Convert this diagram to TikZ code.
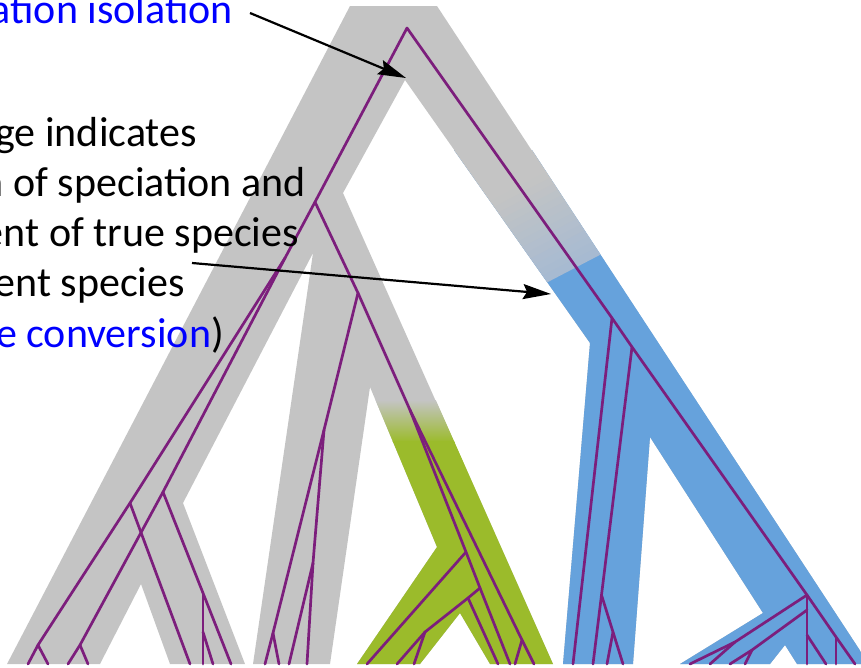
\documentclass[tikz,border=0pt]{standalone}
\usepackage{fontspec}
\setmainfont{Carlito}
\usetikzlibrary{arrows.meta}
\definecolor{branchgray}{RGB}{196,196,196}
\definecolor{cladegreen}{RGB}{155,187,43}
\definecolor{cladeblue}{RGB}{102,162,220}
\definecolor{fadeblue}{RGB}{166,186,210}
\definecolor{lineage}{RGB}{124,30,124}
\definecolor{linkblue}{RGB}{0,0,255}

\begin{document}
\begin{tikzpicture}[x=1pt,y=-1pt,
  gene/.style={draw=lineage, line width=2.7pt, line cap=round, line join=round},
  pointer/.style={draw=black, line width=2.2pt, -{Stealth[length=28pt,width=15pt,inset=4pt]}},
  slidetext/.style={anchor=base east, inner sep=0pt, font=\fontsize{42}{50}\selectfont}]
\useasboundingbox (0,0) rectangle (861,667);
\clip (0,0) rectangle (861,667);

% species tree: wide branches
\fill[branchgray] (7,664) -- (350,6) -- (437,6) -- (861,652) -- (861,664)
  -- (797,664) -- (785,645) -- (770,664) -- (680,664) -- (763,613) -- (650,437)
  -- (633,664) -- (563,664) -- (590,343) -- (405,80) -- (343,193) -- (553,664)
  -- (490,664) -- (460,613) -- (420,664) -- (357,664) -- (437,547) -- (370,387)
  -- (330,664) -- (253,664) -- (313,253) -- (183,503) -- (245,664) -- (170,664)
  -- (141,584) -- (100,664) -- cycle;

% green clade, fading in from grey
\begin{scope}
  \clip (370,387) -- (437,547) -- (357,664) -- (420,664) -- (460,613)
    -- (490,664) -- (553,664) -- (430,387) -- cycle;
  \shade[top color=branchgray, bottom color=cladegreen] (340,400) rectangle (560,442);
  \fill[cladegreen] (340,441) rectangle (560,670);
\end{scope}

% blue clade, fading in along the branch
\begin{scope}
  \clip (454,150) -- (532,150) -- (861,652) -- (861,664) -- (797,664) -- (785,645)
    -- (770,664) -- (680,664) -- (763,613) -- (650,437) -- (633,664) -- (563,664)
    -- (590,343) -- cycle;
  \fill[cladeblue] (440,140) rectangle (870,670);
  \fill[branchgray] ({505-100*0.568+133},{160-100*0.823-69.3})
    -- ({505+31*0.568+133},{160+31*0.823-69.3})
    -- ({505+31*0.568-133},{160+31*0.823+69.3})
    -- ({505-100*0.568-133},{160-100*0.823+69.3}) -- cycle;
  \foreach \i in {0,...,13} {
    \pgfmathsetmacro\sa{30+7*\i}
    \pgfmathsetmacro\sb{\sa+8}
    \pgfmathtruncatemacro\p{100*(\i+0.5)/14}
    \fill[fadeblue!\p!branchgray] ({505+\sa*0.568+133},{160+\sa*0.823-69.3})
      -- ({505+\sb*0.568+133},{160+\sb*0.823-69.3})
      -- ({505+\sb*0.568-133},{160+\sb*0.823+69.3})
      -- ({505+\sa*0.568-133},{160+\sa*0.823+69.3}) -- cycle;
  }
\end{scope}

% gene tree nodes
\coordinate (R) at (407,28);
\coordinate (L1) at (315,202);
\coordinate (La) at (285,258);
\coordinate (LA) at (130,503);
\coordinate (LA2) at (38,645);
\coordinate (LB) at (163,492);
\coordinate (LB2) at (80,645);
\coordinate (LB3) at (203,593);
\coordinate (LB4) at (203,632);
\coordinate (M0) at (358,293);
\coordinate (M1) at (324,430);
\coordinate (M2) at (273,633);
\coordinate (M3) at (313,563);
\coordinate (G0) at (410,410);
\coordinate (G1) at (522,640);
\coordinate (G2) at (466,552);
\coordinate (G3) at (480,588);
\coordinate (G4) at (425,632);
\coordinate (G5) at (468,598);
\coordinate (B1) at (612,318);
\coordinate (B2) at (632,347);
\coordinate (B3) at (807,595);
\coordinate (B4) at (836,637);
\coordinate (B5) at (601.5,595);
\coordinate (B6) at (613,632);
\coordinate (B7) at (735,642);
\coordinate (B8) at (807,610);
\coordinate (B9) at (752,650);
\coordinate (B10) at (807,635);

% gene tree tips
\foreach \n/\x in {a1/28,a2/48,b1/68,b2/88,a3/190,b3/203,b4/213,b5/231,
                   m1/265,m2/279,m3/289,m4/307,
                   g1/367,g2/397,g3/414,g4/498,g5/510,g6/515,g7/534,
                   c1/573,c2/593,c3/607,c4/623,
                   d1/690,d2/710,d3/730,d4/745,d5/807,d6/826,d7/836,d8/855}
  \coordinate (t\n) at (\x,664);

% gene tree lineages
\draw[gene] (ta1) -- (LA2) -- (LA) -- (La) -- (L1) -- (R) -- (B1) -- (B2) -- (B3) -- (B4) -- (td8);
\draw[gene] (LA2) -- (ta2);
\draw[gene] (LA) -- (ta3);
\draw[gene] (La) -- (LB) -- (LB2) -- (tb1);
\draw[gene] (LB2) -- (tb2);
\draw[gene] (LB) -- (LB3) -- (tb5);
\draw[gene] (LB3) -- (LB4) -- (tb3);
\draw[gene] (LB4) -- (tb4);
\draw[gene] (L1) -- (M0) -- (M1) -- (M2) -- (tm1);
\draw[gene] (M2) -- (tm2);
\draw[gene] (M1) -- (M3) -- (tm4);
\draw[gene] (M3) -- (tm3);
\draw[gene] (M0) -- (G0) -- (G1) -- (tg7);
\draw[gene] (G1) -- (tg6);
\draw[gene] (G0) -- (G2) -- (G3) -- (tg5);
\draw[gene] (G2) -- (tg1);
\draw[gene] (G3) -- (G5) -- (G4) -- (tg2);
\draw[gene] (G4) -- (tg3);
\draw[gene] (G5) -- (tg4);
\draw[gene] (B1) -- (tc1);
\draw[gene] (B2) -- (B5) -- (B6) -- (tc4);
\draw[gene] (B5) -- (tc2);
\draw[gene] (B6) -- (tc3);
\draw[gene] (B3) -- (B7) -- (td1);
\draw[gene] (B7) -- (td2);
\draw[gene] (B3) -- (B8) -- (B10) -- (td5);
\draw[gene] (B8) -- (B9) -- (td3);
\draw[gene] (B9) -- (td4);
\draw[gene] (B10) -- (td6);
\draw[gene] (B4) -- (td7);

% callout arrows
\coordinate (pA) at (250,13);
\coordinate (hA) at (406,78);
\coordinate (pB) at (192,263);
\coordinate (hB) at (551,294);
\draw[pointer] (pA) -- (hA);
\draw[pointer] (pB) -- (hB);

% slide text
\node[slidetext, text=linkblue] (s1) at (233,23) {ation isolation};
\node[slidetext] (s2) at (197,146.5) {ge indicates};
\node[slidetext] (s3) at (306,196) {n of speciation and};
\node[slidetext] (s4) at (299,246.5) {ent of true species};
\node[slidetext] (s5) at (185,296.5) {ent species};
\node[slidetext] (s6) at (224,347.5) {\textcolor{linkblue}{e conversion})};
\end{tikzpicture}
\end{document}
